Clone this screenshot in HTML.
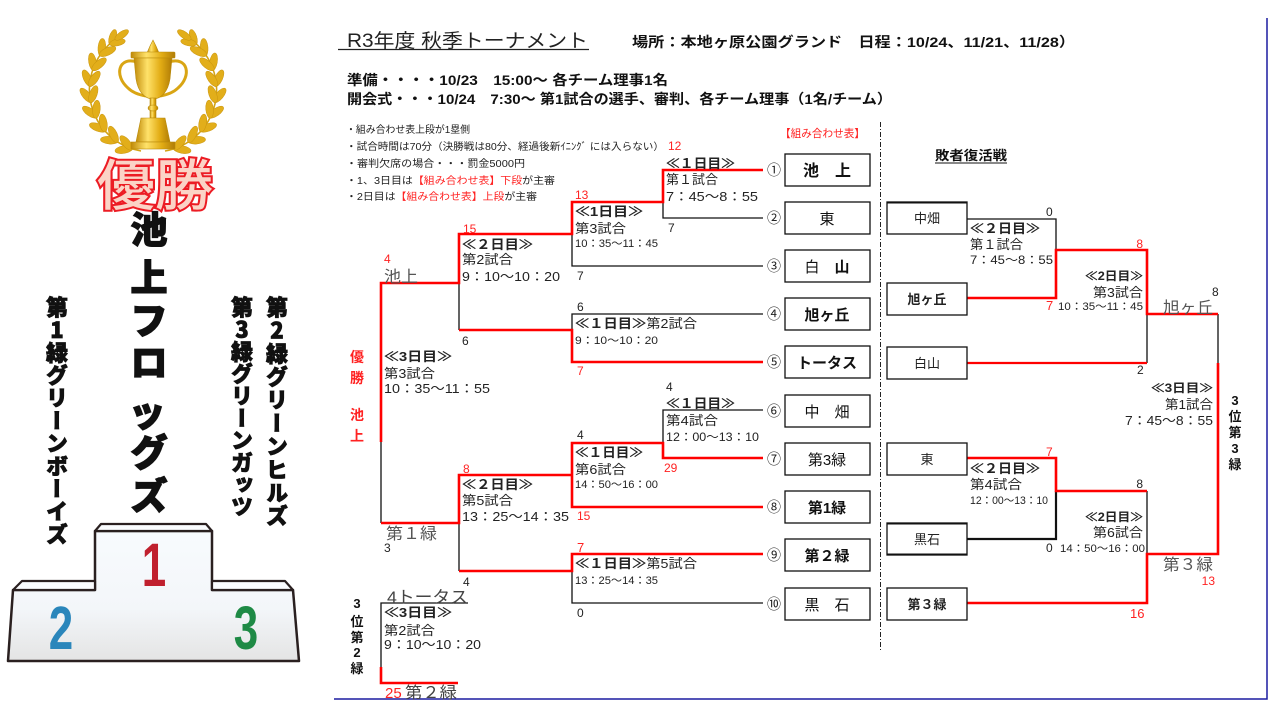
<!DOCTYPE html>
<html><head><meta charset="utf-8">
<style>
html,body{margin:0;padding:0;background:#fff;}
#c{position:relative;width:1280px;height:720px;overflow:hidden;background:#fff;}
svg{position:absolute;left:0;top:0;}
text{font-family:"Liberation Sans","Noto Sans CJK JP",sans-serif;}
.vt{position:absolute;writing-mode:vertical-rl;text-orientation:upright;font-family:"Noto Sans CJK JP",sans-serif;font-weight:900;color:#111;-webkit-text-stroke:0.8px #111;line-height:1;white-space:nowrap;font-size:22px;}
</style></head><body><div id="c">
<svg width="1280" height="720" viewBox="0 0 1280 720">
<defs>
<linearGradient id="gold" x1="0" y1="0" x2="1" y2="0">
<stop offset="0" stop-color="#c08a08"/><stop offset="0.35" stop-color="#ffe26a"/><stop offset="0.7" stop-color="#e2ac14"/><stop offset="1" stop-color="#b07c06"/>
</linearGradient>
<linearGradient id="pod" x1="0" y1="0" x2="0" y2="1">
<stop offset="0" stop-color="#f8fbfe"/><stop offset="0.6" stop-color="#f3f6f9"/><stop offset="1" stop-color="#e4e4e4"/>
</linearGradient>
<g id="branch" fill="#e2ae1a" stroke="#c99510" stroke-width="0.5">
<path d="M141,151 A62,62 0 0,1 116,39" fill="none" stroke="#d4a414" stroke-width="1.6"/>
<g transform="translate(130.8,148.3)"><ellipse cx="7" cy="0" rx="9" ry="3.8" transform="rotate(170)"/><ellipse cx="7" cy="0" rx="9" ry="3.8" transform="rotate(230)"/></g>
<g transform="translate(116.4,140.8)"><ellipse cx="7" cy="0" rx="9" ry="3.8" transform="rotate(185)"/><ellipse cx="7" cy="0" rx="9" ry="3.8" transform="rotate(245)"/></g>
<g transform="translate(104.5,129.9)"><ellipse cx="7" cy="0" rx="9" ry="3.8" transform="rotate(200)"/><ellipse cx="7" cy="0" rx="9" ry="3.8" transform="rotate(260)"/></g>
<g transform="translate(95.8,116.2)"><ellipse cx="7" cy="0" rx="9" ry="3.8" transform="rotate(215)"/><ellipse cx="7" cy="0" rx="9" ry="3.8" transform="rotate(275)"/></g>
<g transform="translate(90.9,100.8)"><ellipse cx="7" cy="0" rx="9" ry="3.8" transform="rotate(230)"/><ellipse cx="7" cy="0" rx="9" ry="3.8" transform="rotate(290)"/></g>
<g transform="translate(90.2,84.6)"><ellipse cx="7" cy="0" rx="9" ry="3.8" transform="rotate(245)"/><ellipse cx="7" cy="0" rx="9" ry="3.8" transform="rotate(305)"/></g>
<g transform="translate(93.7,68.8)"><ellipse cx="7" cy="0" rx="9" ry="3.8" transform="rotate(260)"/><ellipse cx="7" cy="0" rx="9" ry="3.8" transform="rotate(320)"/></g>
<g transform="translate(101.2,54.4)"><ellipse cx="7" cy="0" rx="9" ry="3.8" transform="rotate(275)"/><ellipse cx="7" cy="0" rx="9" ry="3.8" transform="rotate(335)"/></g>
<g transform="translate(110.5,43.9)"><ellipse cx="7" cy="0" rx="8" ry="3.4" transform="rotate(288)"/><ellipse cx="7" cy="0" rx="8" ry="3.4" transform="rotate(348)"/></g>
<g transform="translate(116,39)"><ellipse cx="7" cy="0" rx="8" ry="3.3" transform="rotate(325)"/></g>
</g>
</defs>

<!-- trophy -->
<use href="#branch"/>
<use href="#branch" transform="translate(306,0) scale(-1,1)"/>
<g fill="url(#gold)" stroke="#b98a0a" stroke-width="0.6">
<path d="M137,62 C118,56 114,76 128,88 C133,93 140,95 146,96" fill="none" stroke="#d9a514" stroke-width="3"/>
<path d="M169,62 C188,56 192,76 178,88 C173,93 166,95 160,96" fill="none" stroke="#d9a514" stroke-width="3"/>
<path d="M147,53 L150,46 L153,40 L156,46 L159,53 Z"/>
<rect x="131" y="52" width="44" height="6" rx="1"/>
<path d="M134,58 L172,58 L170,79 C168,92 161,99 153,99 C145,99 138,92 136,79 Z"/>
<rect x="150" y="98" width="6" height="20"/>
<ellipse cx="153" cy="108" rx="5" ry="3"/>
<path d="M141,118 L165,118 L170,142 L136,142 Z"/>
<rect x="131" y="142" width="44" height="7"/>
</g>

<!-- 優勝 -->
<text x="155" y="205" font-size="55" font-weight="500" text-anchor="middle" textLength="116" lengthAdjust="spacingAndGlyphs" fill="#fbd3c6" stroke="#ec1c24" stroke-width="4" paint-order="stroke" style="font-family:'Noto Sans CJK JP',sans-serif">優勝</text>

<!-- 池上フロッグズ -->
<g font-size="37" font-weight="900" fill="#111" stroke="#111" stroke-width="1.2" text-anchor="middle">
<text x="149" y="243" style="font-family:'Noto Sans CJK JP',sans-serif">池</text>
<text x="149" y="291" style="font-family:'Noto Sans CJK JP',sans-serif">上</text>
<text x="149" y="334" style="font-family:'Noto Sans CJK JP',sans-serif">フ</text>
<text x="149" y="376" style="font-family:'Noto Sans CJK JP',sans-serif">ロ</text>
<text x="147" y="426" style="font-family:'Noto Sans CJK JP',sans-serif">ッ</text>
<text x="149" y="466" style="font-family:'Noto Sans CJK JP',sans-serif">グ</text>
<text x="149" y="509" style="font-family:'Noto Sans CJK JP',sans-serif">ズ</text>
</g>

<!-- podium -->
<path d="M8,661 L13,590 L95,590 L95,531 L212,531 L212,590 L293,590 L299,661 Z" fill="url(#pod)" stroke="#2a2020" stroke-width="2.5" stroke-linejoin="round"/>
<path d="M95,531 L101,524 L206,524 L212,531 Z" fill="#fafcfe" stroke="#2a2020" stroke-width="2.2" stroke-linejoin="round"/>
<path d="M13,590 L22,581 L95,581 L95,590 Z" fill="#fafcfe" stroke="#2a2020" stroke-width="2.2" stroke-linejoin="round"/>
<path d="M212,581 L285,581 L293,590 L212,590 Z" fill="#fafcfe" stroke="#2a2020" stroke-width="2.2" stroke-linejoin="round"/>
<text x="0" y="0" font-size="61" font-weight="bold" fill="#c0202e" text-anchor="middle" transform="translate(154,586) scale(0.72,1)">1</text>
<text x="0" y="0" font-size="61" font-weight="bold" fill="#2a86bb" text-anchor="middle" transform="translate(61,649) scale(0.72,1)">2</text>
<text x="0" y="0" font-size="61" font-weight="bold" fill="#1e8a45" text-anchor="middle" transform="translate(246,649) scale(0.72,1)">3</text>

<!-- header -->
<text x="347" y="47" font-size="19" textLength="241" lengthAdjust="spacingAndGlyphs" fill="#222">R3年度 秋季トーナメント</text>
<line x1="338" y1="49.5" x2="589" y2="49.5" stroke="#222" stroke-width="1.2"/>
<text x="632" y="47" font-size="14" font-weight="bold" textLength="443" lengthAdjust="spacingAndGlyphs" fill="#111">場所：本地ヶ原公園グランド　日程：10/24、11/21、11/28）</text>
<text x="347" y="85" font-size="14" font-weight="bold" textLength="321" lengthAdjust="spacingAndGlyphs" fill="#111">準備・・・・10/23　15:00～ 各チーム理事1名</text>
<text x="347" y="104" font-size="14" font-weight="bold" textLength="545" lengthAdjust="spacingAndGlyphs" fill="#111">開会式・・・10/24　7:30～ 第1試合の選手、審判、各チーム理事（1名/チーム）</text>

<g font-size="10" fill="#222">
<text x="346" y="133" textLength="124" lengthAdjust="spacingAndGlyphs">・組み合わせ表上段が1塁側</text>
<text x="346" y="150" textLength="318" lengthAdjust="spacingAndGlyphs">・試合時間は70分（決勝戦は80分、経過後新ｲﾆﾝｸﾞ には入らない）</text>
<text x="346" y="167" textLength="179" lengthAdjust="spacingAndGlyphs">・審判欠席の場合・・・罰金5000円</text>
<text x="346" y="184" textLength="209" lengthAdjust="spacingAndGlyphs">・1、3日目は<tspan fill="#f22">【組み合わせ表】下段</tspan>が主審</text>
<text x="346" y="200" textLength="191" lengthAdjust="spacingAndGlyphs">・2日目は<tspan fill="#f22">【組み合わせ表】上段</tspan>が主審</text>
</g>
<text x="668" y="150" font-size="12" fill="#f22">12</text>
<text x="780" y="137" font-size="11" fill="#f22" textLength="85" lengthAdjust="spacingAndGlyphs">【組み合わせ表】</text>
<text x="935" y="160" font-size="13" font-weight="bold" fill="#111" textLength="72" lengthAdjust="spacingAndGlyphs">敗者復活戦</text>
<line x1="935" y1="163" x2="1007" y2="163" stroke="#111" stroke-width="1"/>

<!-- dashed divider -->
<line x1="880.5" y1="122" x2="880.5" y2="652" stroke="#222" stroke-width="1" stroke-dasharray="5 2 1 2"/>
<!-- blue border -->
<path d="M1267,18 V699 H334" fill="none" stroke="#1c1ca0" stroke-width="1.5"/>

<!-- main bracket black -->
<g fill="none" stroke="#111" stroke-width="1.3">
<path d="M663,202 V218 H763"/>
<path d="M572,234 V266 H763"/>
<path d="M763,314 H572 V330"/>
<path d="M459,283 V330"/>
<path d="M763,410 H663 V443"/>
<path d="M381,442 V523"/>
<path d="M572,571 V603 H763"/>
<path d="M459,523 V571"/>
<path d="M468,603 H381 V667"/>
<path d="M967,219 H1056 V250"/>
<path d="M1147,314 V363"/>
<path d="M1218,314 V363"/>
<path d="M1147,491 V554"/>
<path d="M1056,491 V539 H967" stroke-width="2.2"/>
</g>
<!-- red -->
<g fill="none" stroke="#f00" stroke-width="2.6">
<path d="M763,170 H663 V202 H572 V234 H459 V283 H381 V442"/>
<path d="M763,362 H572 V330 H459"/>
<path d="M763,458 H663 V443 H572 V507 H763"/>
<path d="M572,475 H459 V523 H381"/>
<path d="M763,554 H572 V571 H459"/>
<path d="M381,667 V683 H458"/>
<path d="M967,298 H1056 V250 H1147 V314 H1218"/>
<path d="M967,363 H1147" stroke-width="2.2"/>
<path d="M1218,363 V554 H1147 V603 H967" />
<path d="M967,458 H1056 V491 H1147"/>
</g>

<!-- team boxes -->
<g fill="#fff" stroke="#111" stroke-width="1.3">
<rect x="785" y="154" width="85" height="32"/>
<rect x="785" y="202" width="85" height="32"/>
<rect x="785" y="250" width="85" height="32"/>
<rect x="785" y="298" width="85" height="32"/>
<rect x="785" y="346" width="85" height="32"/>
<rect x="785" y="395" width="85" height="32"/>
<rect x="785" y="443" width="85" height="32"/>
<rect x="785" y="491" width="85" height="32"/>
<rect x="785" y="539" width="85" height="32"/>
<rect x="785" y="588" width="85" height="32"/>
<rect x="887" y="202" width="80" height="32"/>
<rect x="887" y="283" width="80" height="32"/>
<rect x="887" y="347" width="80" height="32"/>
<rect x="887" y="443" width="80" height="32"/>
<rect x="887" y="523" width="80" height="32"/>
<rect x="887" y="588" width="80" height="32"/>
</g>
<line x1="887" y1="202.5" x2="967" y2="202.5" stroke="#111" stroke-width="2"/>
<line x1="887" y1="523.5" x2="967" y2="523.5" stroke="#111" stroke-width="2"/>
<line x1="887" y1="554.5" x2="967" y2="554.5" stroke="#111" stroke-width="2"/>

<g font-size="14" text-anchor="middle" fill="#222">
<text x="774" y="175">①</text><text x="774" y="223">②</text><text x="774" y="271">③</text><text x="774" y="319">④</text><text x="774" y="367">⑤</text>
<text x="774" y="416">⑥</text><text x="774" y="464">⑦</text><text x="774" y="512">⑧</text><text x="774" y="560">⑨</text><text x="774" y="609">⑩</text>
</g>
<g font-size="15" text-anchor="middle" fill="#111">
<text x="827" y="176" font-weight="bold" font-size="16">池　上</text>
<text x="827" y="224">東</text>
<text x="827" y="272">白　<tspan font-weight="bold">山</tspan></text>
<text x="827" y="320" font-weight="bold">旭ヶ丘</text>
<text x="827" y="368" font-weight="bold">トータス</text>
<text x="827" y="417">中　畑</text>
<text x="827" y="465">第3緑</text>
<text x="827" y="513" font-weight="bold">第1緑</text>
<text x="827" y="561" font-weight="bold">第２緑</text>
<text x="827" y="610">黒　石</text>
</g>
<g font-size="13" text-anchor="middle" fill="#222">
<text x="927" y="223">中畑</text>
<text x="927" y="304" font-weight="bold">旭ヶ丘</text>
<text x="927" y="368">白山</text>
<text x="927" y="464">東</text>
<text x="927" y="544">黒石</text>
<text x="927" y="609" font-weight="bold">第３緑</text>
</g>

<!-- main bracket labels -->
<g fill="#222">
<text x="666" y="168" font-size="13" font-weight="bold" textLength="69" lengthAdjust="spacingAndGlyphs">≪１日目≫</text>
<text x="666" y="184" font-size="13" textLength="52" lengthAdjust="spacingAndGlyphs">第１試合</text>
<text x="666" y="201" font-size="13" textLength="92" lengthAdjust="spacingAndGlyphs">7：45～8：55</text>
<text x="668" y="232" font-size="12">7</text>
<text x="575" y="199" font-size="12" fill="#f22">13</text>
<text x="575" y="216" font-size="13" font-weight="bold" textLength="68" lengthAdjust="spacingAndGlyphs">≪1日目≫</text>
<text x="575" y="233" font-size="13" textLength="51" lengthAdjust="spacingAndGlyphs">第3試合</text>
<text x="575" y="247" font-size="11" textLength="83" lengthAdjust="spacingAndGlyphs">10：35～11：45</text>
<text x="577" y="280" font-size="12">7</text>
<text x="577" y="311" font-size="12">6</text>
<text x="575" y="328" font-size="13" font-weight="bold" textLength="122" lengthAdjust="spacingAndGlyphs">≪１日目≫<tspan font-weight="normal">第2試合</tspan></text>
<text x="575" y="344" font-size="11" textLength="83" lengthAdjust="spacingAndGlyphs">9：10～10：20</text>
<text x="577" y="375" font-size="12" fill="#f22">7</text>
<text x="463" y="233" font-size="12" fill="#f22">15</text>
<text x="462" y="249" font-size="13" font-weight="bold" textLength="71" lengthAdjust="spacingAndGlyphs">≪２日目≫</text>
<text x="462" y="264" font-size="13" textLength="51" lengthAdjust="spacingAndGlyphs">第2試合</text>
<text x="462" y="281" font-size="13" textLength="98" lengthAdjust="spacingAndGlyphs">9：10～10：20</text>
<text x="462" y="345" font-size="12">6</text>
<text x="384" y="263" font-size="12" fill="#f22">4</text>
<text x="384" y="282" font-size="16" fill="#555" textLength="34" lengthAdjust="spacingAndGlyphs">池上</text>
<text x="384" y="361" font-size="13" font-weight="bold" textLength="68" lengthAdjust="spacingAndGlyphs">≪3日目≫</text>
<text x="384" y="378" font-size="13" textLength="51" lengthAdjust="spacingAndGlyphs">第3試合</text>
<text x="384" y="393" font-size="13" textLength="106" lengthAdjust="spacingAndGlyphs">10：35～11：55</text>
<g font-size="14" font-weight="bold" fill="#f22" text-anchor="middle">
<text x="357" y="362">優</text><text x="357" y="383">勝</text><text x="357" y="420">池</text><text x="357" y="441">上</text>
</g>
<text x="666" y="391" font-size="12">4</text>
<text x="666" y="408" font-size="13" font-weight="bold" textLength="69" lengthAdjust="spacingAndGlyphs">≪１日目≫</text>
<text x="666" y="425" font-size="13" textLength="52" lengthAdjust="spacingAndGlyphs">第4試合</text>
<text x="666" y="441" font-size="12" textLength="93" lengthAdjust="spacingAndGlyphs">12：00～13：10</text>
<text x="664" y="472" font-size="12" fill="#f22">29</text>
<text x="577" y="439" font-size="12">4</text>
<text x="575" y="457" font-size="13" font-weight="bold" textLength="68" lengthAdjust="spacingAndGlyphs">≪１日目≫</text>
<text x="575" y="474" font-size="13" textLength="51" lengthAdjust="spacingAndGlyphs">第6試合</text>
<text x="575" y="488" font-size="11" textLength="83" lengthAdjust="spacingAndGlyphs">14：50～16：00</text>
<text x="577" y="520" font-size="12" fill="#f22">15</text>
<text x="463" y="473" font-size="12" fill="#f22">8</text>
<text x="462" y="489" font-size="13" font-weight="bold" textLength="71" lengthAdjust="spacingAndGlyphs">≪２日目≫</text>
<text x="462" y="505" font-size="13" textLength="51" lengthAdjust="spacingAndGlyphs">第5試合</text>
<text x="462" y="521" font-size="13" textLength="107" lengthAdjust="spacingAndGlyphs">13：25～14：35</text>
<text x="463" y="586" font-size="12">4</text>
<text x="577" y="552" font-size="13" fill="#f22">7</text>
<text x="575" y="568" font-size="13" font-weight="bold" textLength="122" lengthAdjust="spacingAndGlyphs">≪１日目≫<tspan font-weight="normal">第5試合</tspan></text>
<text x="575" y="584" font-size="11" textLength="83" lengthAdjust="spacingAndGlyphs">13：25～14：35</text>
<text x="577" y="617" font-size="12">0</text>
<text x="386" y="539" font-size="16" fill="#555" textLength="51" lengthAdjust="spacingAndGlyphs">第１緑</text>
<text x="384" y="552" font-size="12">3</text>
<text x="387" y="603" font-size="17" fill="#444" textLength="81" lengthAdjust="spacingAndGlyphs">4トータス</text>
<text x="384" y="617" font-size="13" font-weight="bold" textLength="68" lengthAdjust="spacingAndGlyphs">≪3日目≫</text>
<text x="384" y="635" font-size="13" textLength="51" lengthAdjust="spacingAndGlyphs">第2試合</text>
<text x="384" y="649" font-size="13" textLength="97" lengthAdjust="spacingAndGlyphs">9：10～10：20</text>
<text x="385" y="698" font-size="15" fill="#f22">25</text>
<text x="405" y="698" font-size="16" fill="#444" textLength="52" lengthAdjust="spacingAndGlyphs">第２緑</text>
<g font-size="13" font-weight="bold" fill="#111" text-anchor="middle">
<text x="357" y="608">3</text><text x="357" y="626">位</text><text x="357" y="642">第</text><text x="357" y="657">2</text><text x="357" y="673">緑</text>
</g>
</g>

<!-- loser bracket labels -->
<g fill="#222">
<text x="1046" y="216" font-size="12">0</text>
<text x="970" y="233" font-size="13" font-weight="bold" textLength="70" lengthAdjust="spacingAndGlyphs">≪２日目≫</text>
<text x="970" y="249" font-size="13" textLength="53" lengthAdjust="spacingAndGlyphs">第１試合</text>
<text x="970" y="264" font-size="12" textLength="83" lengthAdjust="spacingAndGlyphs">7：45～8：55</text>
<text x="1143" y="248" font-size="12" fill="#f22" text-anchor="end">8</text>
<text x="1085" y="280" font-size="12" font-weight="bold" textLength="58" lengthAdjust="spacingAndGlyphs">≪2日目≫</text>
<text x="1093" y="297" font-size="13" textLength="50" lengthAdjust="spacingAndGlyphs">第3試合</text>
<text x="1046" y="310" font-size="13" fill="#f22">7</text>
<text x="1058" y="310" font-size="11" textLength="85" lengthAdjust="spacingAndGlyphs">10：35～11：45</text>
<text x="1212" y="296" font-size="12">8</text>
<text x="1163" y="313" font-size="16" fill="#555" textLength="50" lengthAdjust="spacingAndGlyphs">旭ヶ丘</text>
<text x="1137" y="374" font-size="12">2</text>
<text x="1151" y="392" font-size="12" font-weight="bold" textLength="62" lengthAdjust="spacingAndGlyphs">≪3日目≫</text>
<text x="1165" y="409" font-size="13" textLength="48" lengthAdjust="spacingAndGlyphs">第1試合</text>
<text x="1125" y="425" font-size="13" textLength="88" lengthAdjust="spacingAndGlyphs">7：45～8：55</text>
<g font-size="13" font-weight="bold" fill="#111" text-anchor="middle">
<text x="1235" y="405">3</text><text x="1235" y="421">位</text><text x="1235" y="437">第</text><text x="1235" y="453">3</text><text x="1235" y="469">緑</text>
</g>
<text x="1046" y="456" font-size="12" fill="#f22">7</text>
<text x="970" y="473" font-size="13" font-weight="bold" textLength="70" lengthAdjust="spacingAndGlyphs">≪２日目≫</text>
<text x="970" y="489" font-size="13" textLength="52" lengthAdjust="spacingAndGlyphs">第4試合</text>
<text x="970" y="504" font-size="11" textLength="78" lengthAdjust="spacingAndGlyphs">12：00～13：10</text>
<text x="1143" y="488" font-size="12" text-anchor="end">8</text>
<text x="1085" y="521" font-size="12" font-weight="bold" textLength="58" lengthAdjust="spacingAndGlyphs">≪2日目≫</text>
<text x="1093" y="537" font-size="13" textLength="50" lengthAdjust="spacingAndGlyphs">第6試合</text>
<text x="1046" y="552" font-size="12">0</text>
<text x="1060" y="552" font-size="11" textLength="85" lengthAdjust="spacingAndGlyphs">14：50～16：00</text>
<text x="1163" y="570" font-size="16" fill="#555" textLength="50" lengthAdjust="spacingAndGlyphs">第３緑</text>
<text x="1215" y="585" font-size="12" fill="#f22" text-anchor="end">13</text>
<text x="1130" y="618" font-size="13" fill="#f22">16</text>
</g>
</svg>

<div class="vt" style="left:46px;top:296px;letter-spacing:0.7px;">第1緑グリーンボーイズ</div>
<div class="vt" style="left:231px;top:296px;letter-spacing:0.2px;">第3緑グリーンガッツ</div>
<div class="vt" style="left:266px;top:296px;letter-spacing:1.2px;">第2緑グリーンヒルズ</div>
</div></body></html>
